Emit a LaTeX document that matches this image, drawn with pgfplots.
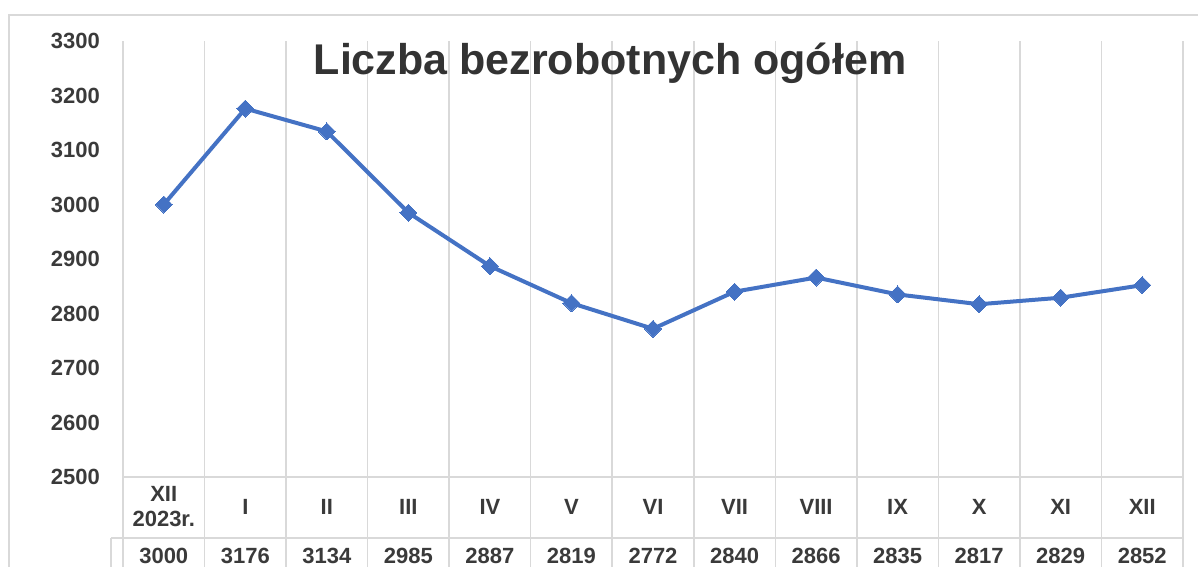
\documentclass[border=0pt]{standalone}
\usepackage{fontspec}
\setmainfont{Liberation Sans}
\usepackage{pgfplots}
\usepackage{pgfplotstable}
\pgfplotsset{compat=1.18}

\definecolor{xlblue}{HTML}{4472C4}
\definecolor{xlgrid}{HTML}{D9D9D9}
\definecolor{xltext}{HTML}{3A3A3A}
\definecolor{xltitle}{HTML}{333333}

% bezrobotni: XII 2023 .. XII 2024
\pgfplotstableread{
x y
0 3000
1 3176
2 3134
3 2985
4 2887
5 2819
6 2772
7 2840
8 2866
9 2835
10 2817
11 2829
12 2852
}\bezrobotni

\begin{document}
\begin{tikzpicture}
  % outer chart frame
  \draw[xlgrid, line width=1.5pt] (9pt,-20pt) -- (9pt,551pt) -- (1230pt,551pt);

  \begin{axis}[
      at={(123pt,89pt)}, anchor=south west,
      scale only axis,
      width=1060pt, height=436pt,
      xmin=-0.5, xmax=12.5,
      ymin=2500, ymax=3300,
      ytick={2500,2600,...,3300},
      xtick={0,...,12},
      xticklabels={{XII\\2023r.},I,II,III,IV,V,VI,VII,VIII,IX,X,XI,XII},
      major tick length=0pt,
      axis line style={draw=none},
      clip=false,
      /pgf/number format/assume math mode=true,
      /pgf/number format/set thousands separator={},
      tick label style={font=\bfseries\fontsize{22}{25}\selectfont, text=xltext},
      yticklabel style={anchor=east, inner sep=0pt, xshift=-23pt},
      xticklabel style={anchor=center, align=center, yshift=-30pt},
    ]
    % table / category lines
    \pgfplotsinvokeforeach{-0.5,0.5,...,12.5}{
      \draw[xlgrid, line width=1.5pt] (axis cs:#1,3300) -- (axis cs:#1,2320);
    }
    \draw[xlgrid, line width=1.5pt] (axis cs:-0.5,2500) -- (axis cs:12.5,2500);
    \draw[xlgrid, line width=1.5pt] (axis cs:-0.647,2388) -- (axis cs:12.5,2388);
    \draw[xlgrid, line width=1.5pt] (axis cs:-0.647,2388) -- (axis cs:-0.647,2320);

    \addplot[xlblue, line width=4pt, mark=diamond*, mark size=8.5pt,
             mark options={solid, fill=xlblue, line width=0pt, xscale=1.33}]
      table[x=x, y=y] {\bezrobotni};

    % data table row with values
    \addplot[draw=none, mark=none, point meta=explicit,
             nodes near coords,
             every node near coord/.append style={anchor=center,
               font=\bfseries\fontsize{22}{25}\selectfont, text=xltext}]
      table[x=x, y expr=2355, meta=y] {\bezrobotni};
  \end{axis}

  \node[font=\bfseries\fontsize{43}{48}\selectfont, text=xltitle]
    at (610pt,503pt) {Liczba bezrobotnych ogółem};

  \pgfresetboundingbox
  \useasboundingbox (0pt,0pt) rectangle (1198pt,566pt);
\end{tikzpicture}
\end{document}
